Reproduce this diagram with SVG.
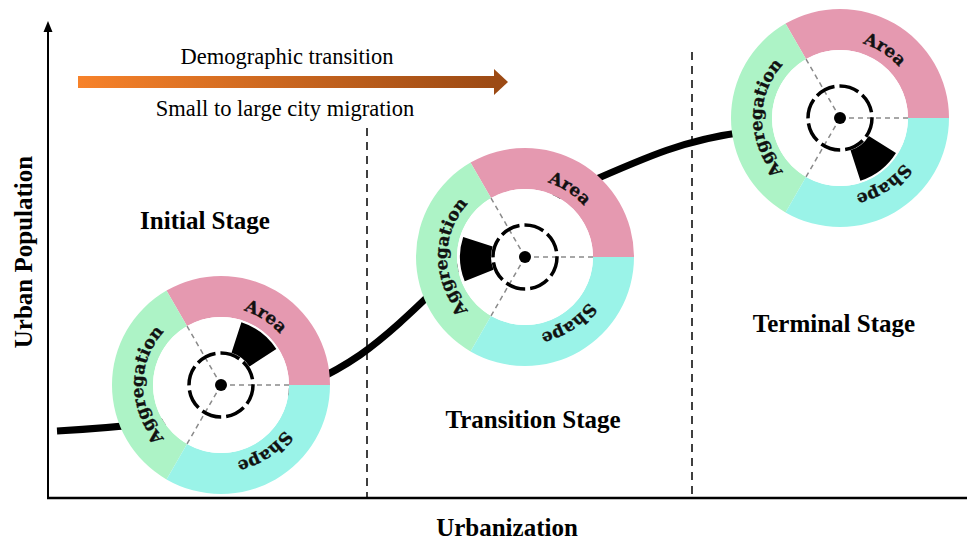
<svg xmlns="http://www.w3.org/2000/svg" xmlns:xlink="http://www.w3.org/1999/xlink" width="967" height="541" viewBox="0 0 967 541">
<style>
.pink{fill:#E599B0}
.green{fill:#ADF3C6}
.cyan{fill:#9AF3E8}
.ray{stroke:#8a8a8a;stroke-width:1.5;stroke-dasharray:5 4;fill:none}
.dc{fill:none;stroke:#000;stroke-width:3.5;stroke-dasharray:20 5}
.ring{font-family:"DejaVu Serif","Liberation Serif",serif;font-weight:bold;font-size:17px;fill:#111;stroke:#111;stroke-width:0.35}
.lbl{font-family:"Liberation Serif","Times New Roman",serif;font-size:22.5px;fill:#000;text-anchor:middle}
.stage{font-family:"Liberation Serif","Times New Roman",serif;font-weight:bold;font-size:25px;fill:#000;text-anchor:middle}
.vdash{stroke:#000;stroke-width:1.5;stroke-dasharray:8 6;fill:none}
</style>
<defs>
<linearGradient id="grad" x1="0" y1="0" x2="1" y2="0">
<stop offset="0" stop-color="#F7822A"/>
<stop offset="1" stop-color="#9C4A14"/>
</linearGradient>
<path id="tp" d="M0,78 A78,78 0 1 1 0,-78 A78,78 0 1 1 0,78" fill="none"/>
<g id="ringbase">
<path class="pink" d="M109,0 A109,109 0 0 0 -54.5,-94.4 L-34,-58.89 A68,68 0 0 1 68,0 Z"/>
<path class="green" d="M-54.5,-94.4 A109,109 0 0 0 -54.5,94.4 L-34,58.89 A68,68 0 0 1 -34,-58.89 Z"/>
<path class="cyan" d="M-54.5,94.4 A109,109 0 0 0 109,0 L68,0 A68,68 0 0 1 -34,58.89 Z"/>
<circle r="68" fill="#fff"/>
<path class="ray" d="M0,0 L68,0 M0,0 L-34,-58.89 M0,0 L-34,58.89"/>
<circle r="32" class="dc"/>
<circle r="6" fill="#000"/>
</g>
</defs>
<rect width="967" height="541" fill="#fff"/>
<g id="connectors">
<path id="curve" d="M57,431 C180,424 280,410 360,355 C430,305 480,230 560,195 C640,160 680,140 745,132" fill="none" stroke="#000" stroke-width="7"/>
<path id="y-axis" d="M48,498 L48,30" stroke="#000" stroke-width="2"/>
<polygon points="43.5,32 48,21 52.5,32" fill="#000"/>
<path id="x-axis" d="M47,498 L967,498" stroke="#000" stroke-width="2.5"/>
<path class="vdash" d="M367,128 L367,498"/>
<path class="vdash" d="M692,52 L692,498"/>
</g>
<g id="trend-arrow">
<rect x="78" y="76" width="418" height="12" fill="url(#grad)"/>
<polygon points="494,69 508,82 494,95" fill="#9C4A14"/>
<text class="lbl" x="287" y="64">Demographic transition</text>
<text class="lbl" x="285" y="116">Small to large city migration</text>
</g>
<g id="circle-initial" transform="translate(221,385)">
<use xlink:href="#ringbase" href="#ringbase"/>
<path d="M28.51,-18.52 L55.35,-35.95 A66,66 0 0 0 20.40,-62.77 L10.51,-32.34 A34,34 0 0 1 28.51,-18.52 Z" fill="#000"/>
<text class="ring"><textPath href="#tp" xlink:href="#tp" startOffset="25%" text-anchor="middle">Aggregation</textPath></text>
<text class="ring"><textPath href="#tp" xlink:href="#tp" startOffset="59.2%" text-anchor="middle">Area</textPath></text>
<text class="ring"><textPath href="#tp" xlink:href="#tp" startOffset="90.8%" text-anchor="middle">Shape</textPath></text>
</g>
<g id="circle-transition" transform="translate(525,257)">
<use xlink:href="#ringbase" href="#ringbase"/>
<path d="M-32.34,-10.51 L-61.82,-20.09 A65,65 0 0 0 -60.27,24.35 L-31.52,12.74 A34,34 0 0 1 -32.34,-10.51 Z" fill="#000"/>
<text class="ring"><textPath href="#tp" xlink:href="#tp" startOffset="25%" text-anchor="middle">Aggregation</textPath></text>
<text class="ring"><textPath href="#tp" xlink:href="#tp" startOffset="59.2%" text-anchor="middle">Area</textPath></text>
<text class="ring"><textPath href="#tp" xlink:href="#tp" startOffset="90.8%" text-anchor="middle">Shape</textPath></text>
</g>
<g id="circle-terminal" transform="translate(840,118)">
<use xlink:href="#ringbase" href="#ringbase"/>
<path d="M10.51,32.34 L20.40,62.77 A66,66 0 0 0 55.97,34.97 L28.83,18.02 A34,34 0 0 1 10.51,32.34 Z" fill="#000"/>
<text class="ring"><textPath href="#tp" xlink:href="#tp" startOffset="25%" text-anchor="middle">Aggregation</textPath></text>
<text class="ring"><textPath href="#tp" xlink:href="#tp" startOffset="59.2%" text-anchor="middle">Area</textPath></text>
<text class="ring"><textPath href="#tp" xlink:href="#tp" startOffset="90.8%" text-anchor="middle">Shape</textPath></text>
</g>
<g id="labels">
<text class="stage" x="205" y="229">Initial Stage</text>
<text class="stage" x="533" y="428">Transition Stage</text>
<text class="stage" x="834" y="332">Terminal Stage</text>
<text class="stage" x="507" y="536">Urbanization</text>
<text class="stage" transform="translate(32,252) rotate(-90)">Urban Population</text>
</g>
</svg>
